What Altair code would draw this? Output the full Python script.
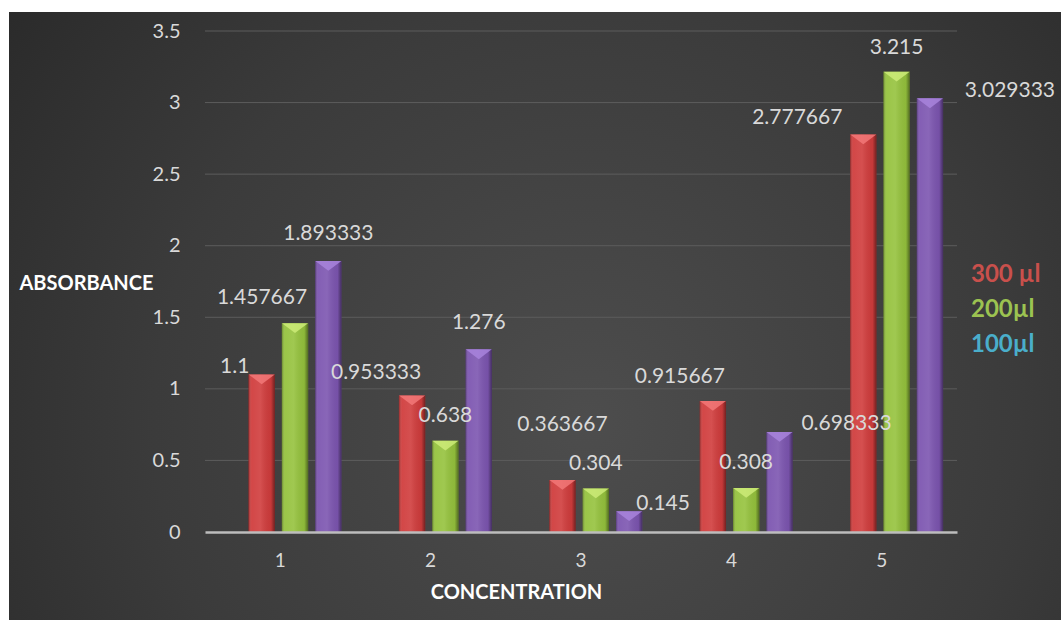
import altair as alt
import pandas as pd

# ---------------- data ----------------
concentrations = ["1", "2", "3", "4", "5"]
series_names = ["300 µl", "200µl", "100µl"]
abs_300 = [1.1, 0.953333, 0.363667, 0.915667, 2.777667]
abs_200 = [1.457667, 0.638, 0.304, 0.308, 3.215]
abs_100 = [1.893333, 1.276, 0.145, 0.698333, 3.029333]
y_ticks = [0, 0.5, 1, 1.5, 2, 2.5, 3, 3.5]
grid_ticks = [0.5, 1, 1.5, 2, 2.5, 3, 3.5]

# label nudges (pixels, style only): [series][concentration] -> (dx, dy)
label_nudge = [
    [(-27, -8), (-36, -23), (0, -55), (-33, -24), (-66, -16)],
    [(-33, -25), (0, -25), (0, -24), (0, -25), (0, -24)],
    [(0, -27), (0, -26), (34, -7), (67, -8), (80, -7)],
]

bar_colors = ["#d03c3c", "#95c23d", "#7c55b0"]
top_colors = ["#f27878", "#cdeb78", "#a884dc"]
legend_colors = ["#c9504c", "#9cc351", "#4aaecb"]

rows = []
for s, vals in zip(series_names, [abs_300, abs_200, abs_100]):
    for c, v in zip(concentrations, vals):
        rows.append({"conc": c, "series": s, "value": v, "label": str(v)})
df = pd.DataFrame(rows)

W, H = 752, 501
PAD = {"left": 205, "top": 31, "right": 104, "bottom": 88}
FONT = "Lato"

x_enc = alt.X(
    "conc:N",
    sort=concentrations,
    scale=alt.Scale(paddingInner=0, paddingOuter=0),
    axis=alt.Axis(
        title="CONCENTRATION", labelAngle=0, labelFont=FONT, labelFontSize=19,
        labelColor="#d9d9d9", labelPadding=19, ticks=False, grid=False,
        domainColor="#bdbdbd", domainWidth=2.5, zindex=1,
        titleFont=FONT, titleFontSize=20, titleFontWeight="bold", titleColor="#ffffff",
        titleX=311, titleY=60, titleBaseline="middle", titleAlign="center",
    ),
)
xoff_enc = alt.XOffset(
    "series:N", sort=series_names,
    scale=alt.Scale(domain=series_names, paddingInner=0.21, paddingOuter=0.861, align=0.758),
)
y_scale = alt.Scale(domain=[0, 3.5], nice=False)
y_axis = alt.Axis(
    values=y_ticks, format=".2~f", grid=False, domain=False, ticks=False,
    labelFont=FONT, labelFontSize=20, labelColor="#d9d9d9", labelPadding=25,
    zindex=1, title="ABSORBANCE", titleAngle=0, titleFont=FONT,
    titleFontSize=20, titleFontWeight="bold", titleColor="#ffffff",
    titleX=-119, titleY=252, titleAlign="center", titleBaseline="middle",
)
y_enc = alt.Y("value:Q", scale=y_scale, axis=y_axis)

bg = alt.Chart(alt.Data(values=[{"k": 1}])).mark_rect(
    color=alt.RadialGradient(
        gradient="radial", x1=0.55, y1=0.6, x2=0.55, y2=0.6, r1=0, r2=0.75,
        stops=[
            alt.GradientStop(offset=0, color="#4d4d4d"),
            alt.GradientStop(offset=0.55, color="#3b3b3b"),
            alt.GradientStop(offset=1, color="#262626"),
        ],
    )
).encode(
    x=alt.value(9 - PAD["left"]), x2=alt.value(W + PAD["right"]),
    y=alt.value(12 - PAD["top"]), y2=alt.value(H + PAD["bottom"]),
)

grid = alt.Chart(pd.DataFrame({"value": grid_ticks})).mark_rule(
    color="#5c5c5c", strokeWidth=1
).encode(y=y_enc)

label_expr = (
    "datum.value == '" + series_names[0] + "' ? '" + legend_colors[0] + "' : "
    "datum.value == '" + series_names[1] + "' ? '" + legend_colors[1] + "' : '"
    + legend_colors[2] + "'"
)

bars = alt.Chart(df).mark_bar().encode(
    x=x_enc, xOffset=xoff_enc, y=y_enc,
    color=alt.Color(
        "series:N",
        scale=alt.Scale(domain=series_names, range=bar_colors),
        legend=alt.Legend(
            orient="none", legendX=742, legendY=232, title=None,
            labelFont=FONT, labelFontSize=24, labelFontWeight="bold",
            labelColor={"expr": label_expr}, symbolOpacity=0, symbolSize=0,
            symbolStrokeWidth=0, labelOffset=0, rowPadding=11, padding=0,
            zindex=1,
        ),
    ),
)

shade = alt.Chart(df).mark_bar(
    color=alt.LinearGradient(
        gradient="linear", x1=0, x2=1, y1=0, y2=0,
        stops=[
            alt.GradientStop(offset=0, color="rgba(0,0,0,0.30)"),
            alt.GradientStop(offset=0.12, color="rgba(255,255,255,0.06)"),
            alt.GradientStop(offset=0.45, color="rgba(255,255,255,0.10)"),
            alt.GradientStop(offset=0.85, color="rgba(0,0,0,0.05)"),
            alt.GradientStop(offset=1, color="rgba(0,0,0,0.45)"),
        ],
    )
).encode(x=x_enc, xOffset=xoff_enc, y=y_enc)

tops = alt.Chart(df).mark_point(
    shape="M-1,0L1,0L0,0.75Z", size=680, filled=True, opacity=0.85, strokeWidth=0
).encode(
    x=x_enc, xOffset=xoff_enc, y=y_enc,
    color=alt.Color("series:N", scale=alt.Scale(domain=series_names, range=top_colors), legend=None),
)

labels = []
for si, s in enumerate(series_names):
    for ci, c in enumerate(concentrations):
        dx, dy = label_nudge[si][ci]
        labels.append(
            alt.Chart(df).transform_filter(
                (alt.datum.conc == c) & (alt.datum.series == s)
            ).mark_text(
                font=FONT, fontSize=21, color="#d9d9d9", align="center",
                baseline="middle", dx=dx, dy=dy,
            ).encode(x=x_enc, xOffset=xoff_enc, y=y_enc, text="label:N")
        )

chart = alt.layer(bg, grid, bars, shade, tops, *labels).resolve_scale(
    color="independent"
).properties(
    width=W, height=H, padding=PAD,
    autosize=alt.AutoSizeParams(type="none"),
    background="#ffffff",
).configure_view(stroke=None)

chart.save("out.html", embed_options={"renderer": "svg", "actions": False})
